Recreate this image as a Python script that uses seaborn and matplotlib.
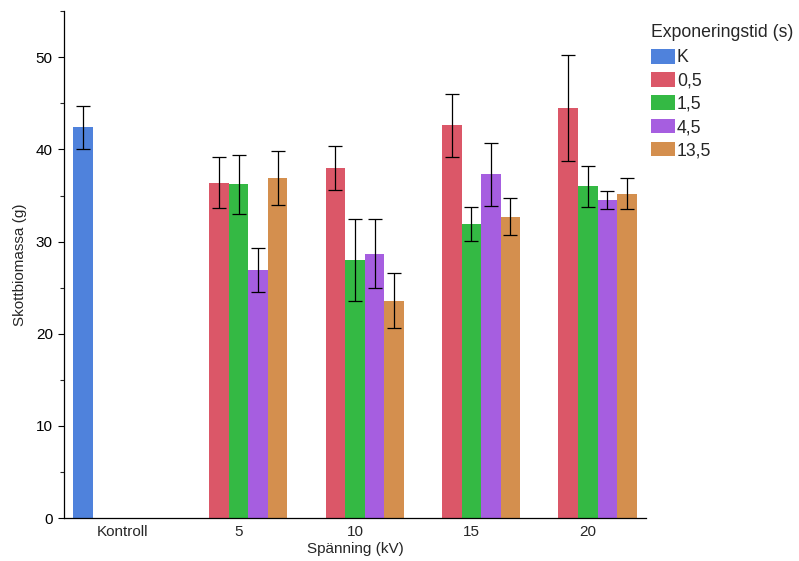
import numpy as np
import pandas as pd
import seaborn as sns
from matplotlib import pyplot as plt
from matplotlib.ticker import MultipleLocator

# data
groups = ['Kontroll', '5', '10', '15', '20']
levels = ['K', '0,5', '1,5', '4,5', '13,5']
colors = ['#4f82dc', '#db5768', '#34b944', '#a65ee0', '#d48f4e']

kontroll_mean = [42.4]
kontroll_err = [2.3]
mean_05 = [36.4, 38.0, 42.6, 44.5]
err_05 = [2.8, 2.4, 3.4, 5.8]
mean_15 = [36.2, 28.0, 31.9, 36.0]
err_15 = [3.2, 4.4, 1.8, 2.2]
mean_45 = [26.9, 28.7, 37.3, 34.5]
err_45 = [2.4, 3.7, 3.4, 1.0]
mean_135 = [36.9, 23.6, 32.7, 35.2]
err_135 = [2.9, 3.0, 2.0, 1.7]

rows = [('Kontroll', 'K', kontroll_mean[0], kontroll_err[0])]
for lvl, m, e in zip(levels[1:], [mean_05, mean_15, mean_45, mean_135],
                     [err_05, err_15, err_45, err_135]):
    for g, mv, ev in zip(groups[1:], m, e):
        rows.append((g, lvl, mv, ev))
df = pd.DataFrame(rows, columns=['spanning', 'tid', 'massa', 'err'])

sns.set_style('ticks')
plt.rcParams['font.family'] = ['Liberation Sans', 'DejaVu Sans']

fig = plt.figure(figsize=(7.99, 5.61), dpi=100)
ax = fig.add_axes([0.080, 0.0766, 0.7285, 0.9034])

sns.barplot(data=df, x='spanning', y='massa', hue='tid', order=groups,
            hue_order=levels, palette=colors, width=0.84, errorbar=None,
            saturation=1, linewidth=0, ax=ax)

# error bars on top of the bars
for p in ax.patches:
    h = p.get_height()
    if h <= 0:
        continue
    hit = df[np.isclose(df['massa'], h)]
    if len(hit) == 0:
        continue
    ax.errorbar(p.get_x() + p.get_width() / 2, h, yerr=hit['err'].iloc[0],
                fmt='none', ecolor='black', elinewidth=0.9, capsize=5,
                capthick=0.9, zorder=5)

ax.set_ylim(0, 55)
ax.set_xlim(-0.5, 4.5)
ax.yaxis.set_major_locator(MultipleLocator(10))
ax.yaxis.set_minor_locator(MultipleLocator(5))
ax.tick_params(axis='y', which='major', length=4.5, width=0.8, labelsize=11, colors='black')
ax.tick_params(axis='y', which='minor', length=3, width=0.8)
ax.tick_params(axis='x', length=0, labelsize=11, pad=5)
sns.despine(ax=ax)
for s in ['left', 'bottom']:
    ax.spines[s].set_linewidth(0.9)
    ax.spines[s].set_color('black')

ax.set_xlabel('Spänning (kV)', fontsize=11, labelpad=2)
ax.set_ylabel('Skottbiomassa (g)', fontsize=11, labelpad=6)

sns.move_legend(ax, 'upper left', bbox_to_anchor=(1.0, 0.986), frameon=False,
                title='Exponeringstid (s)', fontsize=12.7, title_fontsize=12.7,
                handlelength=1.35, handleheight=0.9, handletextpad=0.1,
                labelspacing=0.33, borderaxespad=0, borderpad=0.3)
leg = ax.get_legend()
leg._legend_box.align = 'left'
leg._legend_box.sep = 6

fig.savefig('out.png', dpi=100)
